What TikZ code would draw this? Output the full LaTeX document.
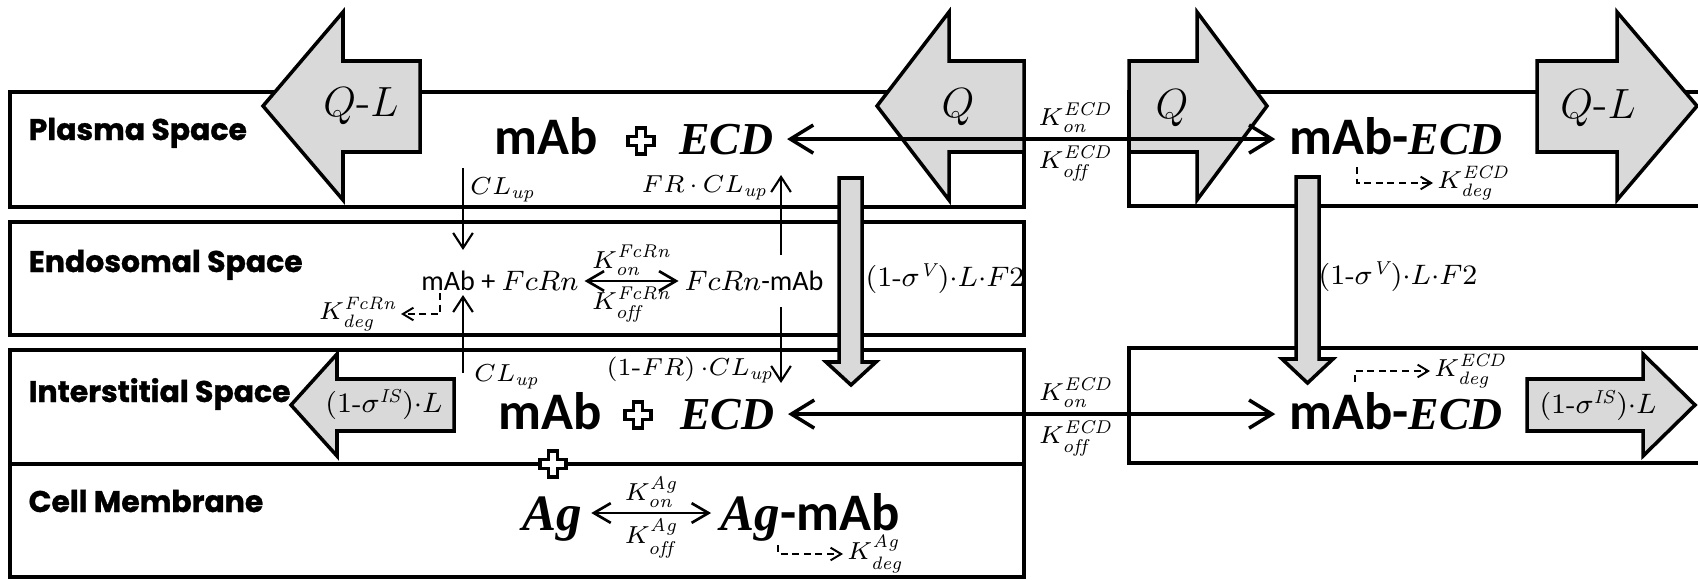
\documentclass[tikz,border=0pt]{standalone}
\usepackage{fontspec}
\usepackage{tikz}
\usetikzlibrary{arrows.meta,positioning,calc,shadows}
\newfontfamily\spacefont{Poppins}[BoldFeatures={FakeBold=1.1}]
\newfontfamily\mabfont{Carlito}
\newfontfamily\specfont{Liberation Serif}
\definecolor{blkgray}{RGB}{217,217,217}
\newcommand\bigmab{\mabfont\bfseries\fontsize{15}{17}\selectfont}
\newcommand\bigspec{\specfont\bfseries\itshape\fontsize{13}{15}\selectfont}
\newcommand\bigag{\specfont\bfseries\itshape\fontsize{14.5}{17}\selectfont}

\begin{document}
\begin{tikzpicture}[
  x=0.01cm,y=-0.01cm,
  compbox/.style={draw,line width=0.9pt,fill=white,
    drop shadow={shadow xshift=0.6pt,shadow yshift=-0.6pt,opacity=0.3}},
  blk/.style={draw,line width=1pt,fill=blkgray,line join=miter},
  space/.style={anchor=base west,inner sep=0pt,font=\spacefont\bfseries\fontsize{8.5}{10}\selectfont},
  sp/.style={anchor=base,inner sep=3.8pt},
  flowlab/.style={font=\fontsize{12.5}{14}\selectfont,inner sep=0pt},
  siglab/.style={font=\fontsize{7.6}{9}\selectfont,inner sep=0pt},
  lab/.style={font=\fontsize{7.3}{8}\selectfont,inner sep=1pt},
  klab/.style={font=\fontsize{7.5}{8}\selectfont,inner sep=1.2pt},
  endo/.style={font=\fontsize{8}{9}\selectfont,inner sep=1.5pt},
  rxn/.style={{Straight Barb[length=6.5pt,width=8pt]}-{Straight Barb[length=6.5pt,width=8pt]},line width=1pt},
  rxnthin/.style={{Straight Barb[length=4.8pt,width=5.6pt]}-{Straight Barb[length=4.8pt,width=5.6pt]},line width=0.75pt},
  flow/.style={-{Straight Barb[length=4.3pt,width=5.6pt]},line width=0.6pt},
  degarr/.style={-{Straight Barb[length=3pt,width=3.6pt]},line width=0.55pt,dash pattern=on 2pt off 1.3pt},
  pics/pluscross/.style={code={
    \draw[line width=0.95pt,fill=white] (-4.8,-13) -- (4.8,-13) -- (4.8,-4.8) -- (13,-4.8)
      -- (13,4.8) -- (4.8,4.8) -- (4.8,13) -- (-4.8,13) -- (-4.8,4.8) -- (-13,4.8)
      -- (-13,-4.8) -- (-4.8,-4.8) -- cycle;}},
]
  \path[use as bounding box] (0,0) rectangle (1698,579);
  \clip (0,0) rectangle (1698,579);

  % compartments
  \draw[compbox] (10,92) rectangle (1024,207);
  \draw[compbox] (10,222) rectangle (1024,335);
  \draw[compbox] (10,350) rectangle (1024,577);
  \draw[line width=0.9pt] (10,464) -- (1024,464);
  \draw[compbox] (1129,92) rectangle (1710,206);
  \draw[compbox] (1129,348) rectangle (1710,463);

  % flows in and out
  \draw[blk] (420,61) -- (343,61) -- (343,12) -- (263,106) -- (343,200) -- (343,152) -- (420,152) -- cycle;
  \draw[blk] (1024,61) -- (949,61) -- (949,12) -- (877,106) -- (949,200) -- (949,152) -- (1024,152) -- cycle;
  \draw[blk] (1129,61) -- (1197,61) -- (1197,12) -- (1267,106) -- (1197,200) -- (1197,152) -- (1129,152) -- cycle;
  \draw[blk] (1537,61) -- (1617,61) -- (1617,12) -- (1697,106) -- (1617,200) -- (1617,152) -- (1537,152) -- cycle;
  \draw[blk] (454,379) -- (337,379) -- (337,354) -- (291,405) -- (337,456) -- (337,431) -- (454,431) -- cycle;
  \draw[blk] (1527,379) -- (1643,379) -- (1643,354) -- (1695,405) -- (1643,456) -- (1643,431) -- (1527,431) -- cycle;
  \draw[blk] (839,178) -- (862,178) -- (862,362) -- (876,362) -- (851,385) -- (826,362) -- (839,362) -- cycle;
  \draw[blk] (1296,177) -- (1319,177) -- (1319,359) -- (1333,359) -- (1307.5,383) -- (1282,359) -- (1296,359) -- cycle;

  \node[flowlab] (qlin) at (361,106) {$Q$-$L$};
  \node[flowlab] (qin) at (958,107) {$Q$};
  \node[flowlab] (qout) at (1172,108) {$Q$};
  \node[flowlab] (qlout) at (1598,108) {$Q$-$L$};
  \node[siglab] (sigin) at (384,404) {$(1\mbox{-}\sigma^{\mathit{IS}}){\cdot}L$};
  \node[siglab] (sigout) at (1598,405) {$(1\mbox{-}\sigma^{\mathit{IS}}){\cdot}L$};
  \node[siglab] (sigvl) at (945,279) {$(1\mbox{-}\sigma^{\mathit{V}}){\cdot}L{\cdot}F2$};
  \node[siglab] (sigvr) at (1398,277) {$(1\mbox{-}\sigma^{\mathit{V}}){\cdot}L{\cdot}F2$};

  % compartment names
  \node[space] (plasma) at (28,140) {Plasma Space};
  \node[space] (endosome) at (28,272) {Endosomal Space};
  \node[space] (inter) at (28,402) {Interstitial Space};
  \node[space] (membrane) at (28,512) {Cell Membrane};

  % plasma
  \node[sp,font=\bigmab] (pmab) at (546,154) {mAb};
  \pic at (641,141) {pluscross};
  \node[sp,font=\bigspec] (pecd) at (726,154) {ECD};
  \node[sp] (pcplx) at (1396,154) {{\bigmab mAb-}{\bigspec ECD}};
  \draw[rxn] (pecd.east) -- node[klab,pos=0.59,above]{$K_{\mathit{on}}^{\mathit{ECD}}$}
    node[klab,pos=0.59,below]{$K_{\mathit{off}}^{\mathit{ECD}}$} (pecd.east -| pcplx.west);
  \node[lab,anchor=west] (kdegp) at (1433,183) {$K_{\mathit{deg}}^{\mathit{ECD}}$};
  \coordinate (degp) at (1357,167);
  \draw[degarr] (degp) |- (kdegp.west);

  % endosome
  \node[endo] (emab) at (500,281) {{\mabfont mAb + }$FcRn$};
  \node[endo] (efcrn) at (754,281) {$FcRn${\mabfont -mAb}};
  \draw[rxnthin] (emab.east) -- node[klab,above]{$K_{\mathit{on}}^{\mathit{FcRn}}$}
    node[klab,below]{$K_{\mathit{off}}^{\mathit{FcRn}}$} (emab.east -| efcrn.west);
  \node[lab,anchor=east] (kdege) at (401,314) {$K_{\mathit{deg}}^{\mathit{FcRn}}$};
  \coordinate (dege) at (440,293);
  \draw[degarr] (dege) |- (kdege.east);

  % uptake and recycling
  \coordinate (clupa) at (463,168);
  \coordinate (clupb) at (463,250);
  \coordinate (clupc) at (463,373);
  \coordinate (clupd) at (463,295);
  \coordinate (fra) at (781,255);
  \coordinate (frb) at (781,175);
  \coordinate (frc) at (781,307);
  \coordinate (frd) at (781,383);
  \draw[flow] (clupa) -- (clupb);
  \draw[flow] (clupc) -- (clupd);
  \draw[flow] (fra) -- (frb);
  \draw[flow] (frc) -- (frd);
  \node[lab,anchor=west] (clup1) at (466,190) {$CL_{\mathit{up}}$};
  \node[lab,anchor=west] (clup2) at (470,377) {$CL_{\mathit{up}}$};
  \node[lab,anchor=east] (frcl) at (772,188) {$FR\,{\cdot}\,CL_{\mathit{up}}$};
  \node[lab,anchor=east] (nfrcl) at (778,370) {$(1\mbox{-}FR)\,{\cdot}CL_{\mathit{up}}$};

  % interstitial
  \node[sp,font=\bigmab] (imab) at (550,429) {mAb};
  \pic at (638,415) {pluscross};
  \node[sp,font=\bigspec] (iecd) at (727,429) {ECD};
  \node[sp] (icplx) at (1396,429) {{\bigmab mAb-}{\bigspec ECD}};
  \draw[rxn] (iecd.east) -- node[klab,pos=0.59,above]{$K_{\mathit{on}}^{\mathit{ECD}}$}
    node[klab,pos=0.59,below]{$K_{\mathit{off}}^{\mathit{ECD}}$} (iecd.east -| icplx.west);
  \node[lab,anchor=west] (kdegi) at (1430,371) {$K_{\mathit{deg}}^{\mathit{ECD}}$};
  \coordinate (degi) at (1355,382);
  \draw[degarr] (degi) |- (kdegi.west);
  \pic at (553,464) {pluscross};

  % membrane
  \node[sp,font=\bigag,inner sep=2.5pt] (ag) at (552,530) {Ag};
  \node[sp,inner sep=2.5pt] (agmab) at (810,530) {{\bigag Ag}{\bigmab -mAb}};
  \coordinate (agrow) at (0,513);
  \draw[rxnthin] (ag.east |- agrow) -- node[klab,above]{$K_{\mathit{on}}^{\mathit{Ag}}$}
    node[klab,below]{$K_{\mathit{off}}^{\mathit{Ag}}$} (agmab.west |- agrow);
  \node[lab,anchor=west] (kdega) at (843,554) {$K_{\mathit{deg}}^{\mathit{Ag}}$};
  \coordinate (dega) at (778,545);
  \draw[degarr] (dega) |- (kdega.west);
\end{tikzpicture}
\end{document}
